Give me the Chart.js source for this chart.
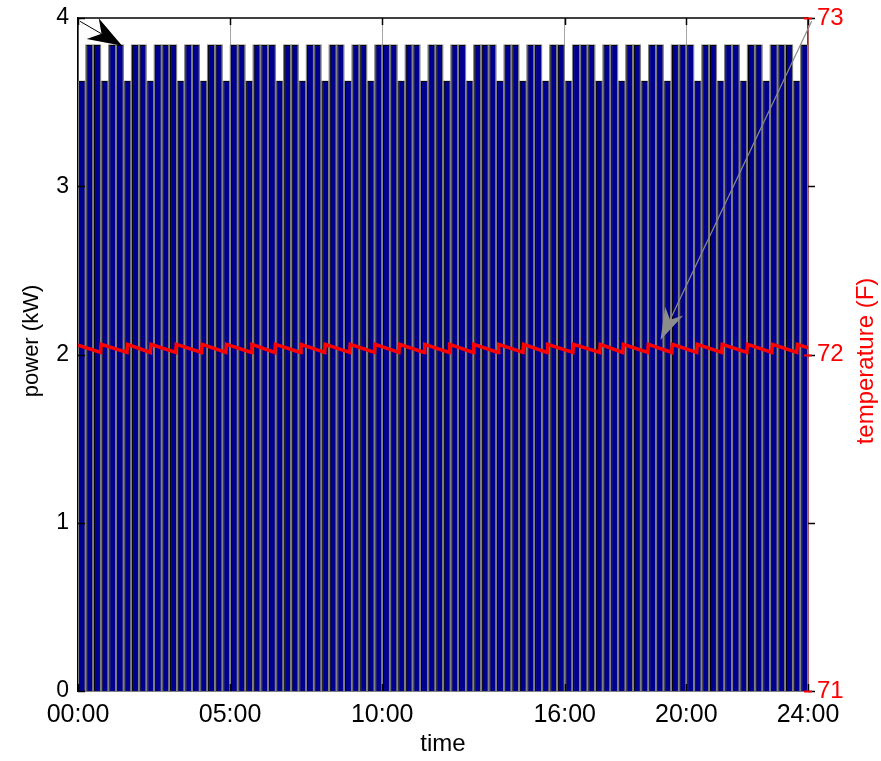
<!DOCTYPE html>
<html><head><meta charset="utf-8">
<script src="https://cdn.jsdelivr.net/npm/chart.js@4/dist/chart.umd.min.js"></script>
<style>html,body{margin:0;padding:0;background:#fff;}#wrap{width:881px;height:761px;position:relative;}</style>
</head><body><div id="wrap"><canvas id="c" width="881" height="761"></canvas></div>
<script>
// ---- data ----
const binHours = 0.25; // 15-minute bins, 96 per day
const powerKW = [
 3.625,3.84,3.84,3.625,3.84,3.84,3.625,3.84,3.84,3.625,3.84,3.84,3.84,3.625,3.84,3.84,
 3.625,3.84,3.84,3.625,3.84,3.84,3.625,3.84,3.84,3.84,3.625,3.84,3.84,3.625,3.84,3.84,
 3.625,3.84,3.84,3.625,3.84,3.84,3.625,3.84,3.84,3.84,3.625,3.84,3.84,3.625,3.84,3.84,
 3.625,3.84,3.84,3.625,3.84,3.84,3.84,3.625,3.84,3.84,3.625,3.84,3.84,3.625,3.84,3.84,
 3.625,3.84,3.84,3.84,3.625,3.84,3.84,3.625,3.84,3.84,3.625,3.84,3.84,3.625,3.84,3.84,
 3.84,3.625,3.84,3.84,3.625,3.84,3.84,3.625,3.84,3.84,3.625,3.84,3.84,3.84,3.625,3.84
];
const tempHours = [0,
 0.74,0.76, 1.61,1.63, 2.38,2.40, 3.21,3.23, 4.06,4.08, 4.86,4.88, 5.70,5.72, 6.47,6.49,
 7.31,7.33, 8.11,8.13, 8.93,8.95, 9.75,9.77, 10.55,10.57, 11.38,11.40, 12.20,12.22,
 12.99,13.01, 13.81,13.83, 14.63,14.65, 15.42,15.44, 16.27,16.29, 17.15,17.17,
 17.91,17.93, 18.73,18.75, 19.52,19.54, 20.34,20.36, 21.16,21.18, 21.99,22.01,
 22.81,22.83, 23.63,23.65, 24];
const tempF = [72.028,
 72.006,72.030, 72.006,72.030, 72.006,72.030, 72.006,72.030, 72.006,72.030, 72.006,72.030, 72.006,72.030, 72.006,72.030,
 72.006,72.030, 72.006,72.030, 72.006,72.030, 72.006,72.030, 72.006,72.030, 72.006,72.030, 72.006,72.030,
 72.006,72.030, 72.006,72.030, 72.006,72.030, 72.006,72.030, 72.006,72.030, 72.006,72.030,
 72.006,72.030, 72.006,72.030, 72.006,72.030, 72.006,72.030, 72.006,72.030, 72.006,72.030,
 72.006,72.030, 72.006,72.030, 72.020];
const xTickHours = [0,5,10,16,20,24];
const xTickLabels = ['00:00','05:00','10:00','16:00','20:00','24:00'];
const yTicksKW = [0,1,2,3,4];
const yTicksF = [71,72,73];
const FONT = "'Liberation Sans', Arial, sans-serif";

const barPoints = powerKW.map((v,i)=>({x:(i+0.5)*binHours, y:v}));
const tempPoints = tempHours.map((h,i)=>({x:h, y:tempF[i]}));

function drawArrow(ctx,x0,y0,x1,y1,color,headLen,headW,lw){
  const a=Math.atan2(y1-y0,x1-x0), c=Math.cos(a), s=Math.sin(a);
  const nx=x1-headLen*0.7*c, ny=y1-headLen*0.7*s;
  ctx.save();
  ctx.strokeStyle=color; ctx.lineWidth=lw;
  ctx.beginPath(); ctx.moveTo(x0,y0); ctx.lineTo(nx,ny); ctx.stroke();
  const bx=x1-headLen*c, by=y1-headLen*s;
  ctx.fillStyle=color;
  ctx.beginPath();
  ctx.moveTo(x1,y1);
  ctx.lineTo(bx-headW*s, by+headW*c);
  ctx.lineTo(nx,ny);
  ctx.lineTo(bx+headW*s, by-headW*c);
  ctx.closePath(); ctx.fill();
  ctx.restore();
}

function vText(ctx,text,x,y,font,color){
  ctx.save();
  ctx.fillStyle=color; ctx.font=font;
  ctx.textAlign='center'; ctx.textBaseline='middle';
  ctx.translate(x,y); ctx.rotate(-Math.PI/2);
  ctx.fillText(text,0,0);
  ctx.restore();
}

const decor = {
  id:'decor',
  afterDatasetsDraw(chart){
    const {ctx, chartArea:ca, scales} = chart;
    const x=scales.x, y=scales.y, y2=scales.y2;
    ctx.save();
    ctx.strokeStyle='#000'; ctx.lineWidth=1.5;
    ctx.beginPath(); ctx.moveTo(ca.left,ca.top); ctx.lineTo(ca.right,ca.top); ctx.stroke();
    xTickHours.forEach(h=>{
      const px=Math.round(x.getPixelForValue(h))+0.5;
      ctx.beginPath(); ctx.moveTo(px,ca.bottom); ctx.lineTo(px,ca.bottom-7); ctx.stroke();
      ctx.beginPath(); ctx.moveTo(px,ca.top); ctx.lineTo(px,ca.top+7); ctx.stroke();
    });
    yTicksKW.forEach(v=>{
      const py=Math.round(y.getPixelForValue(v))+0.5;
      ctx.beginPath(); ctx.moveTo(ca.left,py); ctx.lineTo(ca.left+7,py); ctx.stroke();
      ctx.beginPath(); ctx.moveTo(ca.right,py); ctx.lineTo(ca.right+7,py); ctx.stroke();
    });
    ctx.strokeStyle='#ff0000'; ctx.lineWidth=2;
    yTicksF.forEach(v=>{
      const py=Math.round(y2.getPixelForValue(v))+0.5;
      ctx.beginPath(); ctx.moveTo(ca.right-4,py); ctx.lineTo(ca.right+4,py); ctx.stroke();
    });
    ctx.restore();
    drawArrow(ctx, x.getPixelForValue(0.07), y.getPixelForValue(3.98),
              x.getPixelForValue(1.45), y.getPixelForValue(3.835), '#000', 34, 12, 1);
    drawArrow(ctx, x.getPixelForValue(24.12), y2.getPixelForValue(72.99),
              x.getPixelForValue(19.15), y2.getPixelForValue(72.043), '#8c8c8c', 32, 10, 1.2);
    vText(ctx,'power (kW)',32,341,"22px "+FONT,'#000');
    vText(ctx,'temperature (F)',866,361,"24px "+FONT,'#ff0000');
  }
};

new Chart(document.getElementById('c'),{
  type:'bar',
  data:{datasets:[
    {type:'line', data:tempPoints, yAxisID:'y2', borderColor:'#ff0000', borderWidth:3.5,
     pointRadius:0, tension:0, order:0},
    {type:'bar', data:barPoints, yAxisID:'y', backgroundColor:'#00008f',
     borderColor:'#000000', borderWidth:{left:1,top:1,right:0,bottom:0}, borderSkipped:false,
     barPercentage:0.78, categoryPercentage:1, grouped:false, order:1},
    {type:'bar', data:barPoints, yAxisID:'y', backgroundColor:'#808080',
     borderWidth:0, barPercentage:1, categoryPercentage:1, grouped:false, order:2}
  ]},
  options:{
    responsive:false, animation:false, devicePixelRatio:1,
    layout:{padding:{top:18,left:0,right:0,bottom:0}},
    plugins:{legend:{display:false}, tooltip:{enabled:false}},
    scales:{
      x:{type:'linear', min:0, max:24, offset:false,
         afterBuildTicks:s=>{s.ticks=xTickHours.map(v=>({value:v}));},
         afterFit:s=>{s.height=70; s.paddingLeft=0; s.paddingRight=0;},
         ticks:{color:'#000', font:{family:FONT,size:25}, padding:9, maxRotation:0, autoSkip:false,
                callback:(v)=>xTickLabels[xTickHours.indexOf(v)]},
         grid:{color:'#a6a6a6', lineWidth:1, drawTicks:false, offset:false},
         border:{color:'#000', width:1.5},
         title:{display:true, text:'time', color:'#000', font:{family:FONT,size:24}, padding:{top:0,bottom:2}}},
      y:{type:'linear', position:'left', min:0, max:4,
         afterBuildTicks:s=>{s.ticks=yTicksKW.map(v=>({value:v}));},
         afterFit:s=>{s.width=78; s.paddingTop=0; s.paddingBottom=0;},
         ticks:{color:'#000', font:{family:FONT,size:23}, padding:9},
         grid:{display:false, drawTicks:false},
         border:{color:'#000', width:1.5},
         title:{display:false, text:'power (kW)'}},
      y2:{type:'linear', position:'right', min:71, max:73,
         afterBuildTicks:s=>{s.ticks=yTicksF.map(v=>({value:v}));},
         afterFit:s=>{s.width=73; s.paddingTop=0; s.paddingBottom=0;},
         ticks:{color:'#ff0000', font:{family:FONT,size:24}, padding:9},
         grid:{display:false, drawTicks:false},
         border:{color:'#b42020', width:1.5},
         title:{display:false, text:'temperature (F)'}}
    }
  },
  plugins:[decor]
});
</script></body></html>
